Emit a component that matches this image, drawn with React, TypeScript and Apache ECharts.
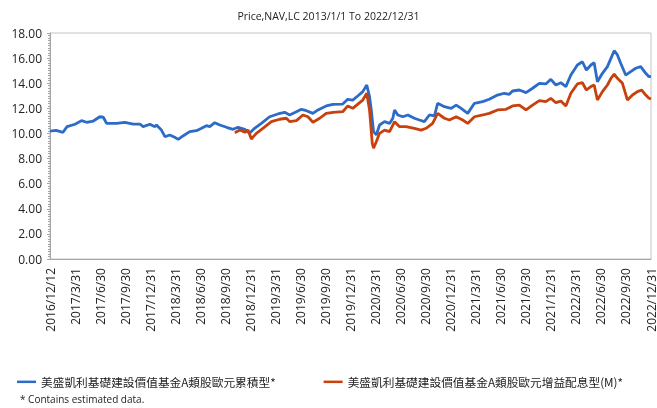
import React, { useEffect, useRef } from "react";
import * as echarts from "echarts";

const titleText = "Price,NAV,LC 2013/1/1 To 2022/12/31";
const seriesNames = [
  "美盛凱利基礎建設價值基金A類股歐元累積型*",
  "美盛凱利基礎建設價值基金A類股歐元增益配息型(M)*",
];
const footnote = "* Contains estimated data.";

const xLabels = [
  "2016/12/12", "2017/3/31", "2017/6/30", "2017/9/30", "2017/12/31",
  "2018/3/31", "2018/6/30", "2018/9/30", "2018/12/31",
  "2019/3/31", "2019/6/30", "2019/9/30", "2019/12/31",
  "2020/3/31", "2020/6/30", "2020/9/30", "2020/12/31",
  "2021/3/31", "2021/6/30", "2021/9/30", "2021/12/31",
  "2022/3/31", "2022/6/30", "2022/9/30", "2022/12/31",
];

const yTicks = [0, 2, 4, 6, 8, 10, 12, 14, 16, 18];

// position on the quarter axis (0 = 2016/12/12, 24 = 2022/12/31)
const accPos = [
  0.0, 0.24, 0.52, 0.68, 1.0, 1.26, 1.46, 1.73, 1.99, 2.13, 2.26, 2.66, 2.99,
  3.32, 3.59, 3.72, 3.99, 4.19, 4.25, 4.45, 4.59, 4.78, 4.98, 5.12, 5.31, 5.58,
  5.85, 6.05, 6.25, 6.38, 6.58, 6.78, 7.05, 7.31, 7.51, 7.78, 7.97, 8.17, 8.44,
  8.77, 9.1, 9.37, 9.57, 9.84, 10.04, 10.24, 10.5, 10.7, 11.03, 11.3, 11.69,
  11.89, 12.09, 12.3, 12.49, 12.65, 12.76, 12.83, 12.92, 13.03, 13.16, 13.36,
  13.56, 13.69, 13.76, 13.89, 14.09, 14.29, 14.55, 14.75, 14.95, 15.15, 15.35,
  15.48, 15.75, 16.02, 16.22, 16.42, 16.68, 16.95, 17.28, 17.54, 17.87, 18.14,
  18.34, 18.47, 18.74, 19.01, 19.27, 19.54, 19.8, 20.0, 20.2, 20.4, 20.6, 20.8,
  21.06, 21.26, 21.42, 21.6, 21.73, 21.86, 22.06, 22.26, 22.4, 22.53, 22.66,
  22.79, 22.99, 23.19, 23.39, 23.59, 23.79, 23.92, 24.0,
];
const accVal = [
  10.19, 10.25, 10.09, 10.54, 10.73, 11.02, 10.89, 10.99, 11.33, 11.29, 10.8,
  10.8, 10.89, 10.75, 10.75, 10.54, 10.73, 10.54, 10.67, 10.27, 9.74, 9.88,
  9.69, 9.53, 9.8, 10.14, 10.22, 10.41, 10.62, 10.54, 10.86, 10.67, 10.49,
  10.33, 10.49, 10.33, 10.01, 10.41, 10.8, 11.33, 11.55, 11.68, 11.47, 11.73,
  11.92, 11.81, 11.6, 11.87, 12.19, 12.32, 12.34, 12.72, 12.66, 13.0, 13.33,
  13.86, 12.93, 11.87, 10.14, 9.88, 10.67, 10.94, 10.8, 11.21, 11.87, 11.47,
  11.33, 11.47, 11.21, 11.07, 10.94, 11.47, 11.39, 12.4, 12.13, 12.0, 12.26,
  12.0, 11.6, 12.4, 12.53, 12.72, 13.06, 13.2, 13.12, 13.38, 13.46, 13.25,
  13.6, 13.99, 13.94, 14.31, 13.86, 14.04, 13.73, 14.65, 15.45, 15.71, 15.05,
  15.45, 15.63, 14.12, 14.79, 15.32, 15.98, 16.59, 16.25, 15.59, 14.65, 14.92,
  15.19, 15.32, 14.79, 14.52, 14.55,
];

const divPos = [
  7.38, 7.58, 7.78, 7.91, 8.04, 8.24, 8.5, 8.84, 9.17, 9.44, 9.57, 9.84, 10.1,
  10.3, 10.5, 10.77, 11.03, 11.3, 11.69, 11.89, 12.09, 12.33, 12.49, 12.65,
  12.76, 12.87, 12.92, 13.03, 13.16, 13.36, 13.56, 13.76, 13.96, 14.22, 14.55,
  14.82, 15.02, 15.28, 15.48, 15.75, 15.95, 16.22, 16.48, 16.68, 16.95, 17.28,
  17.54, 17.87, 18.21, 18.47, 18.74, 19.01, 19.27, 19.54, 19.8, 20.0, 20.2,
  20.4, 20.6, 20.8, 21.06, 21.26, 21.42, 21.6, 21.73, 21.86, 22.06, 22.26,
  22.4, 22.53, 22.66, 22.86, 23.06, 23.26, 23.46, 23.63, 23.79, 23.92, 24.0,
];
const divVal = [
  10.06, 10.27, 10.09, 10.27, 9.56, 10.01, 10.41, 10.94, 11.13, 11.21, 10.94,
  11.02, 11.47, 11.33, 10.89, 11.21, 11.6, 11.68, 11.73, 12.19, 12.0, 12.4,
  12.66, 13.2, 11.87, 9.21, 8.82, 9.34, 10.01, 10.27, 10.14, 10.94, 10.54,
  10.54, 10.41, 10.27, 10.41, 10.8, 11.6, 11.21, 11.07, 11.33, 11.07, 10.8,
  11.33, 11.47, 11.6, 11.87, 11.92, 12.19, 12.26, 11.87, 12.26, 12.61, 12.53,
  12.8, 12.45, 12.58, 12.19, 13.2, 13.94, 14.04, 13.46, 13.73, 13.86, 12.66,
  13.33, 13.86, 14.39, 14.73, 14.39, 13.99, 12.66, 13.06, 13.33, 13.46, 13.06,
  12.8, 12.75,
];

const BLUE = "#2d6bc8";
const ORANGE = "#c8400c";
const FONT = "'Open Sans', 'Noto Sans CJK TC', sans-serif";

export default function App() {
  const ref = useRef<HTMLDivElement>(null);
  useEffect(() => {
    if (!ref.current) return;
    const chart = echarts.init(ref.current, null, { renderer: "svg" });
    const accData = accPos.map((p, i) => [p, accVal[i]]);
    const divData = divPos.map((p, i) => [p, divVal[i]]);
    chart.setOption({
      animation: false,
      textStyle: { fontFamily: FONT },
      title: {
        text: titleText,
        left: "center",
        top: 6,
        textStyle: { fontSize: 10.5, fontWeight: "normal", color: "#222", fontFamily: FONT },
      },
      grid: {
        left: 50,
        right: 5,
        top: 33,
        bottom: 149,
        show: true,
        borderColor: "#c4c4c4",
        borderWidth: 1,
        containLabel: false,
      },
      legend: {
        left: 12,
        top: 371,
        itemGap: 48,
        itemWidth: 19,
        itemHeight: 2.5,
        icon: "rect",
        textStyle: { fontSize: 11.7, color: "#222", fontFamily: "'Noto Sans CJK TC', sans-serif" },
        data: seriesNames,
      },
      graphic: [
        {
          type: "text",
          left: 20,
          top: 394,
          style: { text: footnote, fontSize: 10, fill: "#222", fontFamily: FONT },
        },
      ],
      xAxis: {
        type: "value",
        min: 0,
        max: xLabels.length - 1,
        interval: 1,
        splitLine: { show: false },
        axisLine: { show: true, lineStyle: { color: "#a6a6a6" } },
        axisTick: { show: false },
        axisLabel: {
          rotate: 90,
          margin: 9,
          fontSize: 12,
          color: "#222",
          fontFamily: FONT,
          formatter: (v: number) => xLabels[Math.round(v)] ?? "",
        },
      },
      yAxis: {
        type: "value",
        min: yTicks[0],
        max: yTicks[yTicks.length - 1],
        interval: 2,
        splitLine: { show: false },
        axisLine: { show: true, lineStyle: { color: "#a6a6a6" } },
        axisTick: { show: true, length: 3, lineStyle: { color: "#a6a6a6" } },
        minorTick: { show: true, splitNumber: 10, length: 2, lineStyle: { color: "#a6a6a6" } },
        axisLabel: {
          fontSize: 12,
          color: "#222",
          margin: 8,
          fontFamily: FONT,
          formatter: (v: number) => v.toFixed(2),
        },
      },
      series: [
        {
          name: seriesNames[0],
          type: "line",
          data: accData,
          showSymbol: false,
          symbol: "none",
          lineStyle: { color: BLUE, width: 2.8 },
          itemStyle: { color: BLUE },
        },
        {
          name: seriesNames[1],
          type: "line",
          data: divData,
          showSymbol: false,
          symbol: "none",
          lineStyle: { color: ORANGE, width: 2.8 },
          itemStyle: { color: ORANGE },
        },
      ],
    });
    return () => chart.dispose();
  }, []);
  return (
    <div
      ref={ref}
      style={{ position: "fixed", left: 0, top: 0, width: 657, height: 408 }}
    />
  );
}
